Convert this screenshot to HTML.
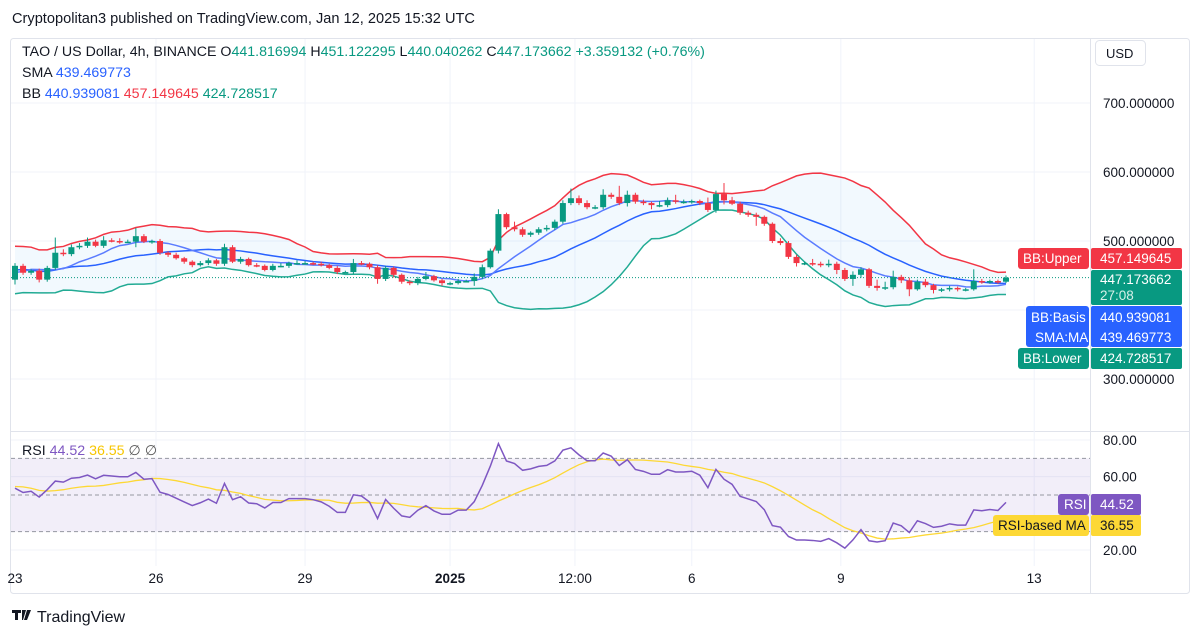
<!DOCTYPE html>
<html><head><meta charset="utf-8">
<style>
html,body{margin:0;padding:0;background:#fff;}
body{width:1200px;height:638px;overflow:hidden;font-family:"Liberation Sans",sans-serif;}
svg text{font-family:"Liberation Sans",sans-serif;}
</style></head>
<body>
<svg id="chart" width="1200" height="638" viewBox="0 0 1200 638" xmlns="http://www.w3.org/2000/svg">
<rect x="0" y="0" width="1200" height="638" fill="#fff"/>
<text x="12" y="23" font-size="14.6" fill="#131722">Cryptopolitan3 published on TradingView.com, Jan 12, 2025 15:32 UTC</text>
<rect x="10.5" y="38.5" width="1179" height="555" rx="3" fill="none" stroke="#e0e3eb"/>
<line x1="1090.5" y1="38" x2="1090.5" y2="594" stroke="#e0e3eb"/>
<line x1="10" y1="431.5" x2="1190" y2="431.5" stroke="#e0e3eb"/>
<g id="grid"></g>
<g id="bands"></g>
<g id="candles"></g>
<g id="rsi"></g>
<g id="axes"></g>
<rect x="1095.5" y="40.5" width="50" height="25" rx="4" fill="#fff" stroke="#e0e3eb"/>
<text x="1106" y="58" font-size="13" fill="#131722">USD</text>
<g font-size="14.2">
<text x="22" y="56" fill="#131722">TAO / US Dollar, 4h, BINANCE <tspan fill="#131722">O</tspan><tspan fill="#089981">441.816994</tspan> H<tspan fill="#089981">451.122295</tspan> L<tspan fill="#089981">440.040262</tspan> C<tspan fill="#089981">447.173662</tspan> <tspan fill="#089981">+3.359132 (+0.76%)</tspan></text>
<text x="22" y="77" fill="#131722">SMA <tspan fill="#2962ff">439.469773</tspan></text>
<text x="22" y="98" fill="#131722">BB <tspan fill="#2962ff">440.939081</tspan> <tspan fill="#f23645">457.149645</tspan> <tspan fill="#089981">424.728517</tspan></text>
<text x="22" y="455" fill="#131722">RSI <tspan fill="#7e57c2">44.52</tspan> <tspan fill="#f7c600">36.55</tspan> <tspan fill="#555">∅ ∅</tspan></text>
</g>
<g font-size="13.5" fill="#fff">
<rect x="1018" y="248" width="71" height="21" rx="3" fill="#f23645"/><text x="1023" y="263" fill="#fff">BB:Upper</text>
<rect x="1091" y="248" width="91" height="21" rx="2" fill="#f23645"/><text x="1100" y="263" fill="#fff">457.149645</text>
<rect x="1091" y="270" width="91" height="35" rx="2" fill="#089981"/><text x="1100" y="284" fill="#fff">447.173662</text><text x="1100" y="300" fill="#d5f0e8">27:08</text>
<rect x="1026" y="306" width="63" height="41" rx="3" fill="#2962ff"/><text x="1031" y="322" fill="#fff">BB:Basis</text><text x="1035" y="342" fill="#fff">SMA:MA</text>
<rect x="1091" y="306" width="91" height="41" rx="2" fill="#2962ff"/><text x="1100" y="322" fill="#fff">440.939081</text><text x="1100" y="342" fill="#fff">439.469773</text>
<rect x="1018" y="348" width="71" height="21" rx="3" fill="#089981"/><text x="1023" y="363" fill="#fff">BB:Lower</text>
<rect x="1091" y="348" width="91" height="21" rx="2" fill="#089981"/><text x="1100" y="363" fill="#fff">424.728517</text>
<rect x="1058" y="494" width="31" height="21" rx="3" fill="#7e57c2"/><text x="1064" y="509" fill="#fff">RSI</text>
<rect x="1091" y="494" width="50" height="21" rx="2" fill="#7e57c2"/><text x="1100" y="509" fill="#fff">44.52</text>
<rect x="993" y="515" width="96" height="21" rx="3" fill="#fdd835"/><text x="998" y="530" fill="#131722">RSI-based MA</text>
<rect x="1091" y="515" width="50" height="21" rx="2" fill="#fdd835"/><text x="1100" y="530" fill="#131722">36.55</text>
</g>
<g>
<path d="M12 610h9v3h-3v7h-3v-7h-3z M22 610h4l-3 10h-1z M27 610h4l-4 10h-3z" fill="#131722"/>
<text x="37" y="622" font-size="16" fill="#131722">TradingView</text>
</g>
</svg>
<script>
const history = [440,470,485,460,445,430,450,475,490,470,455,440,430,445,465,480,470,450,445];
const closes = [464,454,457,444,461,483,481,491,493,499,
493,501,500,499,499,507,499,500,483,480,
475,470,465,468,472,467,491,470,474,465,
464,458,464,464,468,468,468,467,465,461,
455,455,468,467,462,445,461,451,441,439,
445,449,443,439,439,442,442,448,462,486,
539,520,517,509,512,517,519,528,555,562,
555,549,549,
567,564,555,567,557,555,552,552,559,557,
557,558,555,545,568,559,554,541,538,535,
525,500,497,477,468,468,467,465,467,458,
445,451,459,435,432,433,448,443,430,441,
436,429,430,432,430,430,442,441,442,441,447];
const wickUp = [4,3,2,3,3,22,5,4,4,6,3,6,3,4,3,12,3,2,3,2,3,2,2,3,3,2,5,3,3,2,3,2,3,4,2,4,3,2,3,2,3,2,6,3,2,3,3,2,2,2,3,6,2,2,2,3,2,5,4,3,7,2,8,3,2,3,4,3,4,14,4,4,3,
8,3,16,6,3,3,2,6,4,8,3,2,2,8,5,16,5,3,3,3,2,2,4,3,3,2,6,3,6,3,3,5,3,2,9,8,9,3,4,3,4,2,2,3,2,2,17,3,2,2,3];
const wickDn = [7,3,3,4,3,3,3,3,3,3,2,3,2,3,2,8,2,3,3,3,2,3,3,2,3,3,3,2,3,2,2,2,2,2,3,2,2,2,2,2,3,2,3,2,3,7,3,4,3,3,3,2,2,4,3,2,2,7,3,2,4,3,3,3,3,3,3,3,3,3,3,3,3,
3,3,3,5,3,3,6,3,3,3,3,3,3,3,4,6,2,3,3,13,3,3,3,3,5,3,3,3,3,6,3,10,4,3,4,3,3,4,10,2,3,5,3,3,3,3,2,3,3,3,2,6,3];
const priceTicks = [700,600,500,400,300];
const priceTickLabels = ["700.000000","600.000000","500.000000","","300.000000"];
const rsiTicks = [80,60,20];
const rsiTickLabels = ["80.00","60.00","20.00"];
const dateLabels = ["23","26","29","2025","12:00","6","9","13"];
const dateIdx = [0,17.5,36,54,69.5,84,102.5,126.5];

const NS="http://www.w3.org/2000/svg";
function mk(tag,attrs,parent){const e=document.createElementNS(NS,tag);for(const k in attrs)e.setAttribute(k,attrs[k]);parent.appendChild(e);return e;}
const N=closes.length;
const x0=15, step=991/(N-1);
const X=i=>x0+i*step;
const Y=p=>241+(500-p)*0.69;
const YR=v=>440+(80-v)*1.8333;

const grid=document.getElementById('grid');
const axes=document.getElementById('axes');
priceTicks.forEach((t,k)=>{
  const gl=mk('line',{x1:11,x2:1090,y1:Y(t),y2:Y(t),stroke:'#f0f3fa'},grid);
  
  
  if(priceTickLabels[k]){const tx=mk('text',{x:1103,y:Y(t)+5,'font-size':13.5,fill:'#131722'},axes);tx.textContent=priceTickLabels[k];
  
  }
});
rsiTicks.forEach((t,k)=>{
  const tx=mk('text',{x:1103,y:YR(t)+5,'font-size':13.5,fill:'#131722'},axes);tx.textContent=rsiTickLabels[k];
  
  
  const gl=mk('line',{x1:11,x2:1090,y1:YR(t),y2:YR(t),stroke:'#f0f3fa'},grid);
  
  
});
dateLabels.forEach((d,k)=>{
  const xx=X(dateIdx[k]);
  if(k>0&&xx<1090){const gl=mk('line',{x1:xx,x2:xx,y1:39,y2:566,stroke:'#f0f3fa'},grid);
  
  }
  const tx=mk('text',{x:xx,y:583,'font-size':13.5,fill:'#131722','text-anchor':'middle','font-weight':d==='2025'?'bold':'normal'},axes);
  tx.textContent=d;
  
  
});

const all=history.concat(closes);
const H=history.length;
function sma(arr,i,n){let s=0,c=0;for(let j=Math.max(0,i-n+1);j<=i;j++){s+=arr[j];c++;}return s/c;}
const basis=[],upper=[],lower=[],sma9=[];
for(let i=0;i<N;i++){
  const k=i+H;const m=sma(all,k,20);
  let v=0;for(let j=k-19;j<=k;j++)v+=(all[j]-m)**2;const sd=Math.sqrt(v/20);
  basis.push(m);upper.push(m+2*sd);lower.push(m-2*sd);sma9.push(sma(all,k,9));
}
const bands=document.getElementById('bands');
let fillD='M'+upper.map((p,i)=>X(i)+','+Y(p)).join(' L');
for(let i=N-1;i>=0;i--)fillD+=' L'+X(i)+','+Y(lower[i]);
const bf=mk('path',{d:fillD+'Z',fill:'rgba(33,150,243,0.06)'},bands);


function line(arr,col,name,par,yf,w){const p=mk('path',{d:'M'+arr.map((v,i)=>X(i)+','+yf(v)).join(' L'),fill:'none',stroke:col,'stroke-width':w||1.5},par);
  
  return p;}
line(upper,'#f23645','bb-upper-line',bands,Y);
line(lower,'#22ab94','bb-lower-line',bands,Y);
line(basis,'#2962ff','bb-basis-line',bands,Y);
line(sma9,'#5b7cff','sma-line',bands,Y);
const cl=mk('line',{x1:11,x2:1090,y1:Y(closes[N-1]),y2:Y(closes[N-1]),stroke:'#089981','stroke-dasharray':'1 2'},bands);



const cg=document.getElementById('candles');
for(let i=0;i<N;i++){
  const o=i===0?444:closes[i-1], c=closes[i];
  const col=c>=o?'#089981':'#f23645';
  const hi=Math.max(o,c)+wickUp[i], lo=Math.min(o,c)-wickDn[i];
  const g=mk('g',{},cg);
  
  
  mk('line',{x1:X(i),x2:X(i),y1:Y(hi),y2:Y(lo),stroke:col,'stroke-width':1},g);
  const top=Y(Math.max(o,c)),h=Math.max(1.5,Math.abs(Y(o)-Y(c)));
  mk('rect',{x:X(i)-3,y:top,width:6,height:h,fill:col},g);
}

const rsiG=document.getElementById('rsi');
const bandRect=mk('rect',{x:11,y:YR(70),width:1079,height:YR(30)-YR(70),fill:'rgba(126,87,194,0.1)'},rsiG);


[70,50,30].forEach(v=>{const l=mk('line',{x1:11,x2:1090,y1:YR(v),y2:YR(v),stroke:'#9598a1','stroke-dasharray':'4 3'},rsiG);
  
  });
let ag=0,al=0;const rsiAll=[];
for(let k=1;k<all.length;k++){const d=all[k]-all[k-1];const g=Math.max(d,0),l=Math.max(-d,0);
  if(k<=14){ag+=g/14;al+=l/14;}else{ag=(ag*13+g)/14;al=(al*13+l)/14;}
  rsiAll.push(al===0?100:100-100/(1+ag/al));}
const rsi=rsiAll.slice(H-1);
const rsiMa=rsi.map((v,i)=>{const k=i+H-1;let s=0,c=0;for(let j=Math.max(0,k-13);j<=k;j++){s+=rsiAll[j];c++;}return s/c;});
line(rsiMa,'#fdd835','rsi-ma-line',rsiG,YR,1.3);
line(rsi,'#7e57c2','rsi-line',rsiG,YR,1.5);
</script>
</body></html>
